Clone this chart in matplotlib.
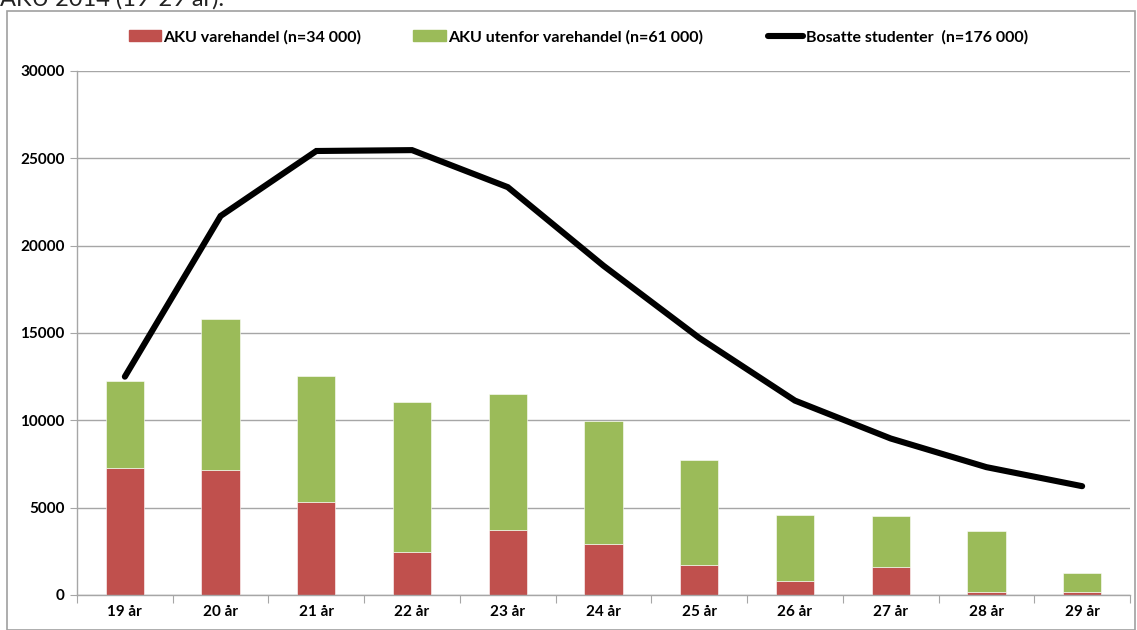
import matplotlib
matplotlib.use("Agg")
import matplotlib.pyplot as plt
from matplotlib.patches import Rectangle
from matplotlib.lines import Line2D
import numpy as np

categories = ["19 år", "20 år", "21 år", "22 år", "23 år", "24 år", "25 år", "26 år", "27 år", "28 år", "29 år"]
aku_varehandel = [7290, 7160, 5340, 2490, 3720, 2930, 1690, 830, 1630, 200, 150]
aku_total = [12260, 15810, 12540, 11070, 11530, 9970, 7720, 4570, 4510, 3670, 1280]
aku_utenfor = [t - v for t, v in zip(aku_total, aku_varehandel)]
bosatte = [12500, 21700, 25420, 25470, 23350, 18850, 14720, 11130, 8960, 7320, 6230]

label_red = "AKU varehandel (n=34 000)"
label_green = "AKU utenfor varehandel (n=61 000)"
label_line = "Bosatte studenter  (n=176 000)"
title_text = "AKU 2014 (19-29 år)."

RED = "#C0504D"
GREEN = "#9BBB59"
GRID = "#A6A6A6"

plt.rcParams['font.family'] = ['Lato', 'DejaVu Sans']

fig = plt.figure(figsize=(11.37, 6.30), dpi=100)
ax = fig.add_axes([77/1137, 1-595/630, (1130-77)/1137, (595-71)/630])

x = np.arange(len(categories))
w = 0.4
ax.bar(x, aku_varehandel, w, color=RED, edgecolor="white", linewidth=0.4, zorder=2)
ax.bar(x, aku_utenfor, w, bottom=aku_varehandel, color=GREEN, edgecolor="white", linewidth=0.4, zorder=2)
ax.plot(x, bosatte, color="black", lw=4.4, solid_capstyle="round", solid_joinstyle="miter", zorder=3)

ax.set_xlim(-0.5, len(categories) - 0.5)
ax.set_ylim(0, 30000)
ax.set_yticks(np.arange(0, 30001, 5000))
ax.set_yticklabels([str(v) for v in range(0, 30001, 5000)], fontsize=11, fontweight="bold")
ax.yaxis.grid(True, color=GRID, lw=1.0, zorder=0)
ax.set_axisbelow(True)

ax.set_xticks(np.arange(-0.5, len(categories), 1.0))
ax.set_xticklabels([])
ax.set_xticks(x, minor=True)
ax.set_xticklabels(categories, minor=True, fontsize=11, fontweight="bold")
ax.tick_params(axis="x", which="major", length=6, color=GRID, direction="out")
ax.tick_params(axis="x", which="minor", length=0, pad=7)
ax.tick_params(axis="y", length=5, color=GRID, pad=4)

for s in ["top", "right"]:
    ax.spines[s].set_visible(False)
for s in ["left", "bottom"]:
    ax.spines[s].set_color(GRID)
    ax.spines[s].set_linewidth(1.0)

legend_items = [
    (Rectangle((0, 0), 1, 1, color=RED), label_red, 129, 2.0),
    (Rectangle((0, 0), 1, 1, color=GREEN), label_green, 413, 2.05),
    (Line2D([0], [0], color="black", lw=4.4, solid_capstyle="round"), label_line, 768, 2.2),
]
for h, lab, xpx, hl in legend_items:
    lg = fig.legend([h], [lab], loc="center left", bbox_to_anchor=(xpx/1137, 1-37/630),
                    frameon=False, prop={"size": 11.5, "weight": "bold"},
                    handlelength=hl, handleheight=0.65, handletextpad=0.15,
                    borderpad=0, borderaxespad=0)

fig.patches.append(Rectangle((7/1137, 0), (1135-7)/1137, 1-11/630, transform=fig.transFigure,
                             fill=False, edgecolor="#A0A0A0", lw=1.2, zorder=-1))
fig.text(0.0, 1-6/630, title_text, fontsize=17, va="baseline", ha="left", color="#222222")

fig.savefig("out.png", dpi=100)
